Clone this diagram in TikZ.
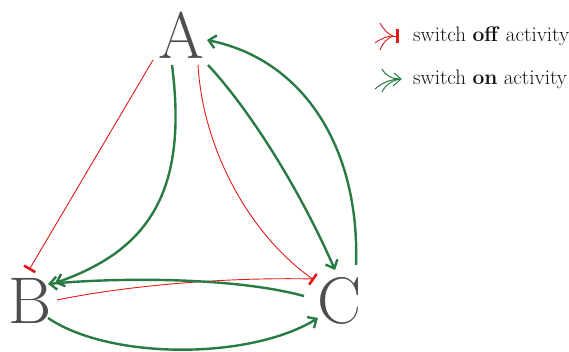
\documentclass[tikz,border=0pt]{standalone}
\usetikzlibrary{arrows.meta}
\definecolor{oncol}{RGB}{42,122,68}
\definecolor{offcol}{RGB}{225,25,25}
\definecolor{lettercol}{RGB}{78,78,78}
\definecolor{legcol}{RGB}{20,20,20}
\tikzset{
  letter/.style={inner sep=0pt, text=lettercol, font=\fontsize{66}{66}\selectfont},
  oneff/.style={draw=oncol, line width=2.4pt, -{Straight Barb[length=7pt,width=13pt,line width=2.4pt]}},
  offeff/.style={draw=offcol, line width=0.9pt, -{Bar[width=13pt,line width=2.6pt]}},
  offline/.style={draw=offcol, line width=0.9pt},
  legtext/.style={anchor=west, inner sep=0pt, text=legcol, font=\fontsize{21}{24}\selectfont}
}
\begin{document}
\begin{tikzpicture}[x=1pt,y=-1pt]
\useasboundingbox (0,0) rectangle (569,352);

% species
\node[letter] (A) at (181,35) {A};
\node[letter] (B) at (30,301) {B};
\node[letter] (C) at (340,301) {C};

% inhibitions
\draw[offeff] ([shift={(-28,25)}]A.center) -- ([shift={(-1,-31)}]B.center);
\draw[offeff] ([shift={(17,30)}]A.center) .. controls (203,150) and (250,235) .. ([shift={(-26,-21)}]C.center);
\draw[offline] ([shift={(27,-1)}]B.center) .. controls (130,285) and (230,277) .. ([shift={(-26,-22)}]C.center);

% activations
\draw[oneff] ([shift={(-9,30)}]A.center) .. controls (188,190) and (150,250) .. ([shift={(25,-18)}]B.center);
\draw[oneff] ([shift={(27,30)}]A.center) .. controls (250,110) and (300,190) .. ([shift={(-5,-31)}]C.center);
\draw[oneff] ([shift={(16,-36)}]C.center) .. controls (360,150) and (305,60) .. ([shift={(26,5)}]A.center);
\draw[oneff] ([shift={(-36,-5)}]C.center) .. controls (230,276) and (110,278) .. ([shift={(18,-17)}]B.center);
\draw[oneff] ([shift={(18,17)}]B.center) .. controls (110,360) and (250,360) .. ([shift={(-22,17)}]C.center);

% legend
\coordinate (offtip) at (393,36);
\draw[offline] (380,23) .. controls (384,30) and (388,34) .. (offtip);
\draw[offline] (375,43) .. controls (382,38) and (388,36) .. (offtip);
\draw[offline] (380,50) .. controls (383,42) and (388,38) .. (offtip);
\draw[offline, -{Bar[width=14pt,line width=2.8pt]}] (offtip) -- (399,36);
\node[legtext] (offlabel) at (413,36) {switch \textbf{off} activity};

\coordinate (ontip) at (401,79);
\draw[oncol, line width=1pt] (382,69) .. controls (386,76) and (392,79) .. (ontip);
\draw[oncol, line width=1pt] (375,89) .. controls (383,82) and (392,79) .. (ontip);
\draw[oncol, line width=1pt] (382,92) .. controls (386,84) and (393,80) .. (ontip);
\draw[oncol, line width=1pt] (394,73) -- (ontip) -- (393,86);
\node[legtext] (onlabel) at (413,79) {switch \textbf{on} activity};
\end{tikzpicture}
\end{document}
